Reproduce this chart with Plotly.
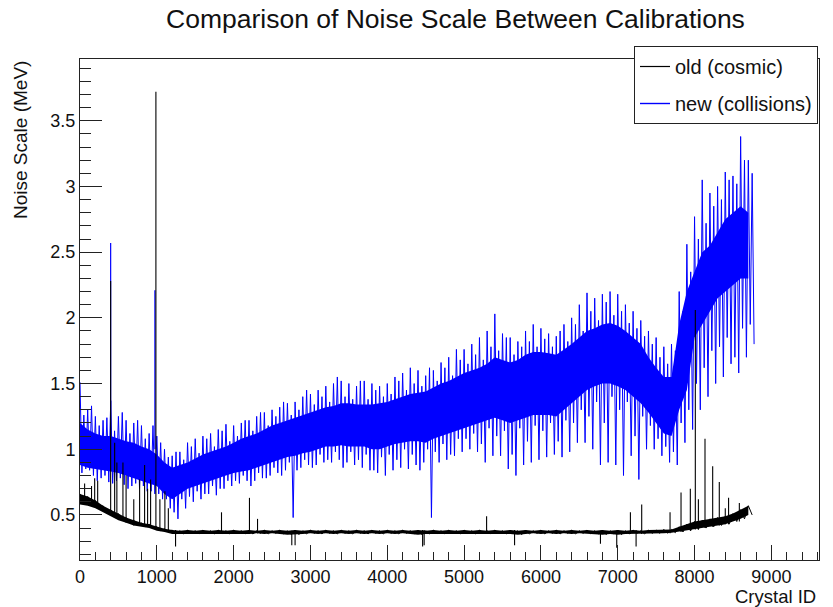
import plotly.graph_objects as go

# ---------------- data ----------------
# crystal-ID bins of width 100 (bin start)
bins = list(range(0, 8800, 100))

# new (collisions): solid core band and spike extremes per bin
new_core_lo = [0.88,0.86,0.85,0.84,0.83,0.82,0.80,0.78,0.76,0.74,
               0.72,0.66,0.62,0.66,0.70,0.72,0.74,0.76,0.78,0.80,
               0.82,0.83,0.84,0.86,0.88,0.90,0.92,0.94,0.95,0.97,
               0.98,1.00,1.02,1.02,1.03,1.02,1.02,1.02,1.00,1.00,
               1.02,1.04,1.05,1.06,1.06,1.05,1.08,1.10,1.12,1.14,
               1.16,1.18,1.20,1.22,1.24,1.22,1.20,1.22,1.24,1.26,
               1.26,1.26,1.25,1.30,1.35,1.40,1.45,1.48,1.50,1.50,
               1.48,1.45,1.40,1.35,1.28,1.20,1.12,1.10,1.30,1.45,
               1.85,1.95,2.05,2.15,2.20,2.25,2.30,2.30]
new_core_hi = [1.20,1.15,1.12,1.10,1.10,1.08,1.06,1.05,1.02,1.00,
               0.96,0.90,0.86,0.88,0.90,0.93,0.96,0.98,1.00,1.02,
               1.05,1.08,1.10,1.12,1.15,1.18,1.20,1.22,1.24,1.26,
               1.28,1.30,1.32,1.33,1.35,1.35,1.34,1.34,1.34,1.35,
               1.36,1.38,1.40,1.42,1.43,1.44,1.47,1.50,1.52,1.55,
               1.58,1.60,1.62,1.65,1.70,1.68,1.66,1.68,1.72,1.74,
               1.74,1.73,1.72,1.76,1.80,1.85,1.90,1.92,1.95,1.96,
               1.94,1.90,1.85,1.80,1.70,1.62,1.55,1.55,1.95,2.20,
               2.35,2.50,2.55,2.65,2.75,2.80,2.85,2.80]
new_spike_lo = [0.85,0.80,0.78,0.75,0.76,0.73,0.72,0.70,0.68,0.66,
                0.62,0.55,0.47,0.55,0.60,0.62,0.66,0.65,0.70,0.72,
                0.74,0.76,0.76,0.78,0.80,0.82,0.84,0.48,0.86,0.88,
                0.88,0.90,0.90,0.92,0.90,0.88,0.86,0.84,0.82,0.80,
                0.84,0.86,0.85,0.88,0.90,0.48,0.90,0.92,0.95,0.98,
                1.00,0.98,0.90,0.95,0.95,0.85,0.80,0.88,0.90,0.92,
                0.94,0.96,0.94,0.98,1.05,1.05,1.00,0.88,0.90,0.88,
                0.80,0.95,0.77,1.00,1.00,0.95,0.90,0.88,1.05,1.15,
                1.30,1.40,1.50,1.55,1.65,1.58,1.70,1.80]
new_spike_hi = [1.51,1.30,1.25,1.22,1.37,1.25,1.22,1.20,1.18,1.12,
                1.10,1.00,0.95,0.98,1.05,1.08,1.10,1.12,1.15,1.19,
                1.18,1.20,1.22,1.25,1.28,1.30,1.32,1.35,1.36,1.40,
                1.42,1.45,1.48,1.50,1.52,1.50,1.48,1.52,1.50,1.48,
                1.50,1.55,1.58,1.62,1.60,1.56,1.60,1.66,1.70,1.76,
                1.76,1.80,1.85,1.90,2.03,1.88,1.85,1.82,1.90,1.95,
                1.92,1.88,1.86,1.95,2.00,2.10,2.19,2.15,2.18,2.20,
                2.18,2.10,2.05,1.98,1.90,1.85,1.78,1.80,2.20,2.56,
                2.77,3.05,2.95,3.00,3.11,3.08,3.38,3.20]
# second (smaller) spike in each bin
new_spike_hi2 = [1.26,1.33,1.18,1.24,1.14,1.28,1.12,1.22,1.08,1.18,
                 1.05,0.94,0.98,0.92,1.02,0.97,1.08,1.02,1.14,1.06,
                 1.10,1.22,1.14,1.28,1.18,1.25,1.36,1.26,1.30,1.45,
                 1.34,1.40,1.36,1.55,1.40,1.38,1.52,1.38,1.45,1.40,
                 1.42,1.52,1.45,1.50,1.48,1.62,1.52,1.62,1.56,1.68,
                 1.65,1.72,1.68,1.78,1.75,1.85,1.72,1.78,1.82,1.78,
                 1.84,1.78,1.90,1.82,1.95,1.90,2.05,1.98,2.12,2.02,
                 2.05,1.96,1.92,1.86,1.80,1.70,1.65,1.75,2.05,2.35,
                 2.60,2.72,2.85,2.90,3.05,3.02,3.20,3.10]
new_spike_lo2 = [0.82,0.84,0.76,0.80,0.74,0.78,0.70,0.74,0.72,0.68,
                 0.66,0.62,0.52,0.62,0.64,0.68,0.66,0.72,0.70,0.76,
                 0.76,0.80,0.72,0.82,0.78,0.86,0.80,0.90,0.84,0.92,
                 0.86,0.96,0.92,0.98,0.86,0.98,0.92,0.96,0.84,0.94,
                 0.96,0.92,1.00,0.96,0.84,1.00,0.98,1.04,0.96,1.08,
                 1.08,1.12,1.04,1.16,1.10,1.14,0.96,1.16,1.06,1.18,
                 1.14,1.20,1.06,1.22,1.20,1.30,1.25,1.36,1.20,1.40,
                 1.30,1.36,1.10,1.25,1.18,1.08,1.02,0.98,1.20,1.30,
                 1.50,1.62,1.75,1.78,1.85,1.70,1.92,1.95]
new_tall_id = [399, 975]
new_tall_val = [2.57, 2.21]

# old (cosmic): band per bin and isolated spikes
old_lo = [0.58,0.57,0.55,0.52,0.49,0.46,0.44,0.42,0.41,0.40,
          0.38,0.37,0.355,0.355,0.36,0.355,0.36,0.355,0.36,0.355,
          0.36,0.355,0.355,0.36,0.355,0.36,0.355,0.35,0.35,0.355,
          0.36,0.355,0.36,0.355,0.36,0.355,0.36,0.355,0.36,0.355,
          0.36,0.355,0.36,0.355,0.35,0.355,0.36,0.355,0.36,0.355,
          0.36,0.355,0.36,0.355,0.36,0.355,0.355,0.35,0.355,0.36,
          0.355,0.36,0.355,0.36,0.355,0.36,0.355,0.355,0.35,0.355,
          0.35,0.355,0.36,0.355,0.36,0.36,0.36,0.365,0.37,0.38,
          0.39,0.40,0.41,0.42,0.43,0.45,0.47,0.50]
old_hi = [0.66,0.64,0.61,0.57,0.54,0.51,0.48,0.46,0.44,0.43,
          0.41,0.395,0.385,0.38,0.385,0.38,0.385,0.38,0.385,0.38,
          0.385,0.38,0.385,0.38,0.385,0.38,0.385,0.38,0.385,0.38,
          0.385,0.38,0.385,0.38,0.385,0.38,0.385,0.38,0.385,0.38,
          0.385,0.38,0.385,0.38,0.385,0.38,0.385,0.38,0.385,0.38,
          0.385,0.38,0.385,0.38,0.385,0.38,0.385,0.38,0.385,0.38,
          0.385,0.38,0.385,0.38,0.385,0.38,0.385,0.38,0.385,0.38,
          0.385,0.38,0.385,0.38,0.385,0.385,0.39,0.39,0.41,0.43,
          0.45,0.46,0.47,0.48,0.49,0.51,0.54,0.57]
old_spike_id = [60,150,191,230,399,451,480,559,600,700,
                776,841,880,919,988,1040,1105,1150,1244,1842,
                2206,2311,2757,2800,4460,4480,5293,5657,6775,6987,
                7165,7239,7312,7681,7824,7945,8010,8050,8136,8236,
                8322,8400,8443,8583]
old_spike_val = [0.74,0.72,0.78,0.76,2.28,1.05,0.90,0.90,0.80,0.62,
                 0.77,0.88,0.70,0.77,3.72,0.62,0.68,0.55,0.26,0.52,
                 0.63,0.47,0.27,0.27,0.26,0.27,0.49,0.27,0.28,0.25,
                 0.52,0.26,0.58,0.52,0.67,0.70,2.06,0.62,1.08,0.87,
                 0.75,0.55,0.63,0.59]

# ---------------- styling ----------------
FONT = "Liberation Sans, Arial, sans-serif"
BLUE = "#0000ff"
BLACK = "#000000"

fig = go.Figure()

# --- new (collisions) ---
fig.add_trace(go.Scatter(
    x=bins + bins[::-1], y=new_core_hi + new_core_lo[::-1],
    fill="toself", fillcolor=BLUE, line=dict(width=0), mode="lines",
    showlegend=False, hoverinfo="skip"))
zx, zy = [], []
for c, sh, sl2, sh2, sl in zip(bins, new_spike_hi, new_spike_lo2, new_spike_hi2, new_spike_lo):
    zx += [c, c + 25, c + 50, c + 75]
    zy += [sh, sl2, sh2, sl]
fig.add_trace(go.Scatter(x=zx, y=zy, mode="lines", line=dict(color=BLUE, width=1),
                         showlegend=False, hoverinfo="skip"))
tx, ty = [], []
for c, v in zip(new_tall_id, new_tall_val):
    i = min(c // 100, len(bins) - 1)
    tx += [c, c, None]
    ty += [new_core_hi[i], v, None]
fig.add_trace(go.Scatter(x=tx, y=ty, mode="lines", line=dict(color=BLUE, width=1.2),
                         showlegend=False, hoverinfo="skip"))

# --- old (cosmic) ---
fig.add_trace(go.Scatter(
    x=bins + bins[::-1], y=old_hi + old_lo[::-1],
    fill="toself", fillcolor=BLACK, line=dict(width=0), mode="lines",
    showlegend=False, hoverinfo="skip"))
ox, oy = [], []
for c, lo, hi in zip(bins, old_lo, old_hi):
    ox += [c, c + 50]
    oy += [hi, lo]
fig.add_trace(go.Scatter(x=ox, y=oy, mode="lines", line=dict(color=BLACK, width=1),
                         showlegend=False, hoverinfo="skip"))
sx, sy = [], []
for c, v in zip(old_spike_id, old_spike_val):
    i = min(c // 100, len(bins) - 1)
    base = old_lo[i] if v > old_hi[i] else old_hi[i]
    sx += [c, c, None]
    sy += [base, v, None]
fig.add_trace(go.Scatter(x=sx, y=sy, mode="lines", line=dict(color=BLACK, width=1.1),
                         showlegend=False, hoverinfo="skip"))

# legend entries
fig.add_trace(go.Scatter(x=[None], y=[None], mode="lines", name="old (cosmic)",
                         line=dict(color=BLACK, width=1.2), legendgroup="old"))
fig.add_trace(go.Scatter(x=[None], y=[None], mode="lines", name="new (collisions)",
                         line=dict(color=BLUE, width=1.4), legendgroup="new"))

axis_common = dict(
    showline=True, linecolor="#222222", linewidth=1, mirror=True,
    ticks="inside", tickcolor="#222222", showgrid=False, zeroline=False,
    tickfont=dict(family=FONT, size=18, color="#111111"),
)
fig.update_xaxes(range=[0, 9620], dtick=1000, tick0=0, ticklen=15,
                 minor=dict(dtick=200, ticks="inside", ticklen=8, tickcolor="#222222"),
                 **axis_common)
fig.update_yaxes(range=[0.157, 3.97], dtick=0.5, tick0=0.5, ticklen=22,
                 minor=dict(dtick=0.1, ticks="inside", ticklen=11, tickcolor="#222222"),
                 **axis_common)

fig.update_layout(
    width=833, height=607,
    margin=dict(l=80, r=14, t=59, b=47, autoexpand=False),
    paper_bgcolor="white", plot_bgcolor="white",
    showlegend=True,
    legend=dict(xref="container", yref="container", x=634 / 833, y=1 - 46 / 607,
                xanchor="left", yanchor="top", bgcolor="white",
                bordercolor="#222222", borderwidth=1, traceorder="grouped",
                tracegroupgap=8,
                font=dict(family=FONT, size=20, color="#111111")),
    annotations=[
        dict(text="Comparison of Noise Scale Between Calibrations", xref="paper", yref="paper",
             x=(455 - 80) / 739, y=(560 - 19) / 501, xanchor="center", yanchor="middle",
             showarrow=False, font=dict(family=FONT, size=26.5, color="#111111")),
        dict(text="Noise Scale (MeV)", xref="paper", yref="paper", textangle=-90,
             x=(20 - 80) / 739, y=1.0, xanchor="center", yanchor="top",
             showarrow=False, font=dict(family=FONT, size=19, color="#111111")),
        dict(text="Crystal ID", xref="paper", yref="paper",
             x=(818 - 80) / 739, y=(560 - 596) / 501, xanchor="right", yanchor="middle",
             showarrow=False, font=dict(family=FONT, size=18.5, color="#111111")),
    ],
)

fig.write_html("out.html")
